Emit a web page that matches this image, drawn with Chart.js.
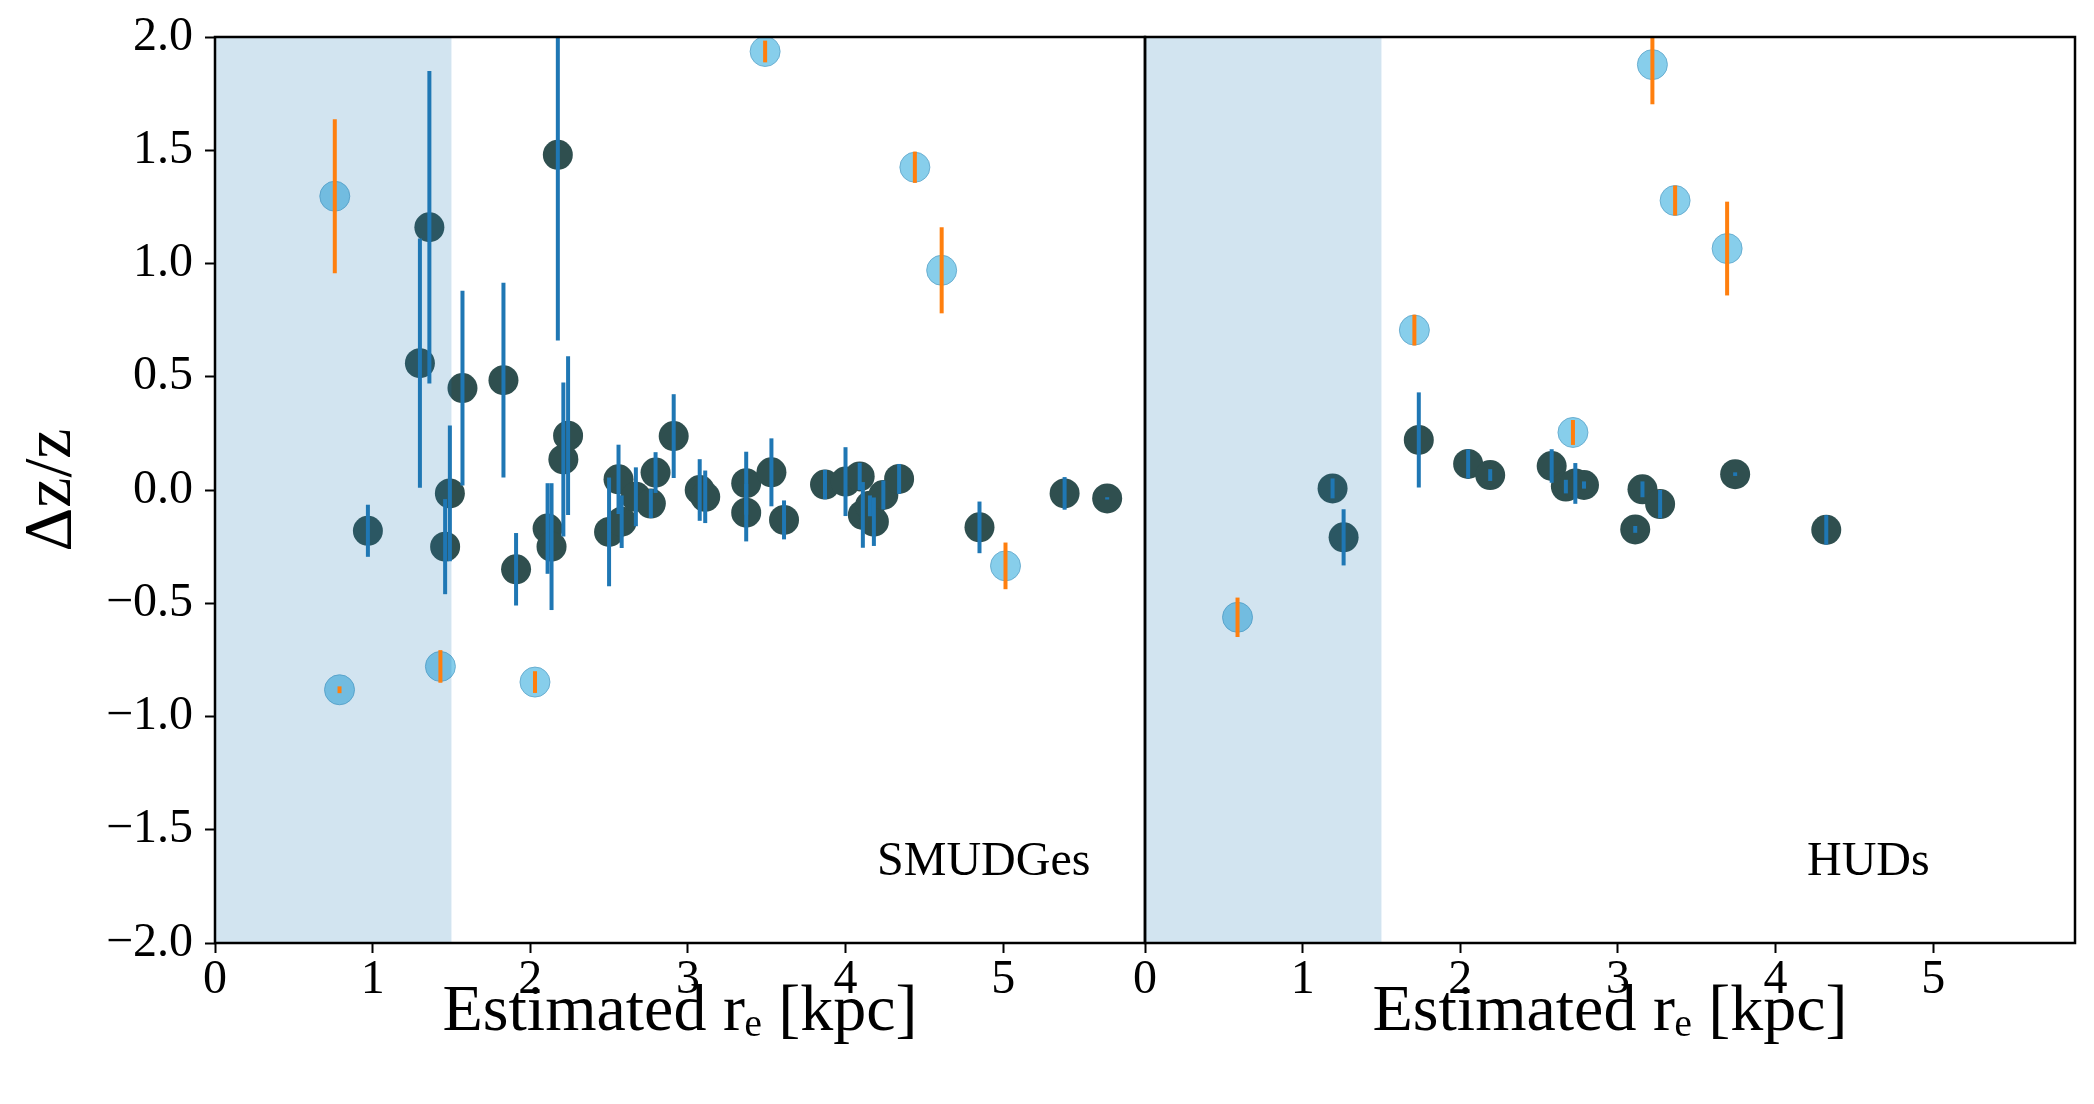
<!DOCTYPE html>
<html><head><meta charset="utf-8">
<script src="https://cdn.jsdelivr.net/npm/chart.js@4.4.0/dist/chart.umd.min.js"></script>
<style>
html,body{margin:0;padding:0;background:#fff;}
#wrap{position:relative;width:2094px;height:1104px;background:#fff;}
canvas{position:absolute;left:0;top:0;}
</style></head><body>
<div id="wrap"><canvas id="leftPanel" width="2094" height="1104"></canvas><canvas id="rightPanel" width="2094" height="1104"></canvas></div>
<script>
// ---- ticks ----
const xTicks = [0, 1, 2, 3, 4, 5];
const yTicks = [-2, -1.5, -1, -0.5, 0, 0.5, 1, 1.5, 2];
const xRange = [0, 5.9];
const yRange = [-2, 2];
const shadeRange = [0, 1.5];
const panelLabels = ['SMUDGes', 'HUDs'];
const labelAnchor = [4.2, -1.7];

// ---- SMUDGes (left panel) ----
const smudgesDarkX = [0.97,1.30,1.36,1.46,1.49,1.57,1.83,1.91,2.11,2.135,2.175,2.21,2.24,2.50,2.56,2.58,2.67,2.765,2.795,2.91,3.075,3.11,3.37,3.37,3.53,3.61,3.87,4.00,4.09,4.11,4.155,4.18,4.24,4.34,4.85,5.39,5.66];
const smudgesDarkY = [-0.18,0.56,1.16,-0.25,-0.015,0.45,0.485,-0.35,-0.17,-0.25,1.48,0.135,0.24,-0.185,0.047,-0.14,-0.03,-0.06,0.077,0.238,0.0,-0.03,0.03,-0.10,0.078,-0.132,0.024,0.037,0.06,-0.11,-0.07,-0.14,-0.022,0.049,-0.165,-0.015,-0.037];
const smudgesDarkErr = [0.115,0.55,0.69,0.21,0.30,0.43,0.43,0.16,0.20,0.28,0.82,0.34,0.35,0.24,0.153,0.116,0.13,0.064,0.09,0.185,0.136,0.116,0.139,0.127,0.15,0.086,0.065,0.152,0.06,0.145,0.046,0.107,0.064,0.066,0.114,0.072,0.005];
const smudgesLightX = [0.76,0.79,1.43,2.03,3.49,4.44,4.61,5.015];
const smudgesLightY = [1.297,-0.882,-0.779,-0.848,1.936,1.425,0.970,-0.335];
const smudgesLightErr = [0.34,0.015,0.072,0.048,0.048,0.069,0.19,0.103];

// ---- HUDs (right panel) ----
const hudsDarkX = [1.19,1.26,1.737,2.05,2.19,2.58,2.67,2.73,2.785,3.11,3.156,3.268,3.744,4.322];
const hudsDarkY = [0.007,-0.209,0.221,0.115,0.066,0.106,0.015,0.029,0.022,-0.174,0.003,-0.062,0.070,-0.176];
const hudsDarkErr = [0.044,0.124,0.21,0.064,0.026,0.074,0.03,0.09,0.016,0.015,0.035,0.062,0.008,0.065];
const hudsLightX = [0.587,1.709,2.715,3.219,3.363,3.693];
const hudsLightY = [-0.562,0.706,0.254,1.878,1.278,1.066];
const hudsLightErr = [0.087,0.068,0.055,0.175,0.066,0.207];

// ---- styles ----
const FONT = '"Liberation Serif", "DejaVu Serif", serif';
const darkColor = '#2f4f4f';
const lightColor = '#87ceeb';
const darkErrColor = '#1f77b4';
const lightErrColor = '#ff7f0e';
const shadeColor = 'rgba(31,119,180,0.2)';

Chart.defaults.font.family = FONT;
Chart.defaults.color = '#000';

function pts(xs, ys) { return xs.map((v, i) => ({x: v, y: ys[i]})); }

function panelPlugin(label, errSets) {
  return {
    id: 'panelDecor',
    afterDatasetsDraw(chart) {
      const {ctx, chartArea: a, scales: {x, y}} = chart;
      ctx.save();
      ctx.beginPath();
      ctx.rect(a.left, a.top, a.right - a.left, a.bottom - a.top);
      ctx.clip();
      const x0 = x.getPixelForValue(shadeRange[0]);
      const x1 = x.getPixelForValue(shadeRange[1]);
      ctx.fillStyle = shadeColor;
      ctx.fillRect(x0, a.top, x1 - x0, a.bottom - a.top);
      ctx.lineWidth = 4;
      ctx.lineCap = 'butt';
      errSets.forEach(es => {
        ctx.strokeStyle = es.color;
        es.xs.forEach((xv, i) => {
          const px = x.getPixelForValue(xv);
          ctx.beginPath();
          ctx.moveTo(px, y.getPixelForValue(es.ys[i] - es.err[i]));
          ctx.lineTo(px, y.getPixelForValue(es.ys[i] + es.err[i]));
          ctx.stroke();
        });
      });
      ctx.restore();
    },
    afterDraw(chart) {
      const {ctx, chartArea: a, scales: {x, y}} = chart;
      ctx.save();
      ctx.strokeStyle = '#000';
      ctx.lineWidth = 2.5;
      ctx.strokeRect(a.left, a.top, a.right - a.left, a.bottom - a.top);
      ctx.fillStyle = '#000';
      ctx.font = '48px ' + FONT;
      ctx.textAlign = 'left';
      ctx.textBaseline = 'alphabetic';
      ctx.fillText(label, x.getPixelForValue(labelAnchor[0]), y.getPixelForValue(labelAnchor[1]));
      ctx.restore();
    }
  };
}

function xScale() {
  return {
    type: 'linear', min: xRange[0], max: xRange[1],
    afterBuildTicks: s => { s.ticks = xTicks.map(v => ({value: v})); },
    afterFit: s => { s.height = 161; },
    border: {display: false},
    grid: {drawOnChartArea: false, drawTicks: true, tickLength: 10, tickWidth: 2, color: '#000'},
    ticks: {padding: 3, maxRotation: 0, autoSkip: false, font: {size: 48, lineHeight: 1}, color: '#000',
            callback: v => String(v)},
    title: {display: true, text: 'Estimated rₑ [kpc]', font: {size: 66, lineHeight: 1.2}, color: '#000',
            padding: {top: 0, bottom: 52}}
  };
}

function yScale(show) {
  return {
    type: 'linear', min: yRange[0], max: yRange[1], display: show,
    afterBuildTicks: s => { s.ticks = yTicks.map(v => ({value: v})); },
    afterFit: s => { s.width = show ? 215 : 0; },
    border: {display: false},
    grid: {drawOnChartArea: false, drawTicks: true, tickLength: 10, tickWidth: 2, color: '#000'},
    ticks: {padding: 12, autoSkip: false, font: {size: 48, lineHeight: 1}, color: '#000',
            callback: v => (v < 0 ? '\u2212' + Math.abs(v).toFixed(1) : v.toFixed(1))},
    title: {display: true, text: 'Δz/z', font: {size: 68, lineHeight: 1.2}, color: '#000',
            padding: {top: 11, bottom: 0}}
  };
}

function datasets(dx, dy, lx, ly) {
  return [
    {label: 'dark', data: pts(dx, dy), backgroundColor: darkColor, borderColor: darkColor,
     borderWidth: 0, pointRadius: 15, pointHoverRadius: 15},
    {label: 'light', data: pts(lx, ly), backgroundColor: lightColor, borderColor: 'rgba(100,170,205,0.9)',
     borderWidth: 1, pointRadius: 15, pointHoverRadius: 15}
  ];
}

const common = {
  responsive: false, animation: false, devicePixelRatio: 1,
  plugins: {legend: {display: false}, tooltip: {enabled: false}},
  events: []
};

new Chart(document.getElementById('leftPanel'), {
  type: 'scatter',
  data: {datasets: datasets(smudgesDarkX, smudgesDarkY, smudgesLightX, smudgesLightY)},
  options: Object.assign({}, common, {
    layout: {padding: {left: 0, right: 2094 - 1145, top: 37, bottom: 0}},
    scales: {x: xScale(), y: yScale(true)}
  }),
  plugins: [panelPlugin(panelLabels[0], [
    {xs: smudgesDarkX, ys: smudgesDarkY, err: smudgesDarkErr, color: darkErrColor},
    {xs: smudgesLightX, ys: smudgesLightY, err: smudgesLightErr, color: lightErrColor}
  ])]
});

new Chart(document.getElementById('rightPanel'), {
  type: 'scatter',
  data: {datasets: datasets(hudsDarkX, hudsDarkY, hudsLightX, hudsLightY)},
  options: Object.assign({}, common, {
    layout: {padding: {left: 1145, right: 19, top: 37, bottom: 0}},
    scales: {x: xScale(), y: yScale(false)}
  }),
  plugins: [panelPlugin(panelLabels[1], [
    {xs: hudsDarkX, ys: hudsDarkY, err: hudsDarkErr, color: darkErrColor},
    {xs: hudsLightX, ys: hudsLightY, err: hudsLightErr, color: lightErrColor}
  ])]
});
</script>
</body></html>
